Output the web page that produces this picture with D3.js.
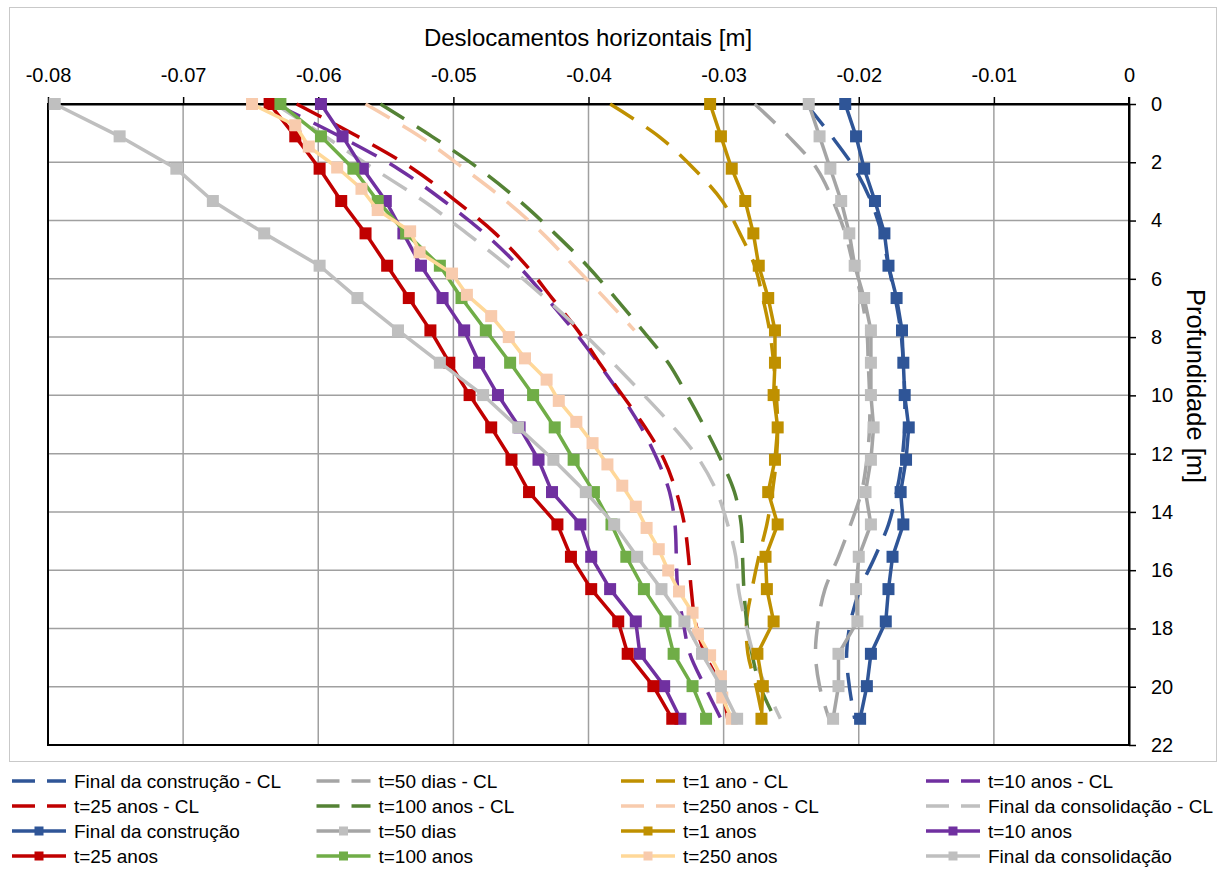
<!DOCTYPE html>
<html>
<head>
<meta charset="utf-8">
<script src="https://cdn.jsdelivr.net/npm/d3@7"></script>
<style>
  html, body { margin: 0; padding: 0; background: #fff; }
  svg text { font-family: "Liberation Sans", Arial, sans-serif; fill: #000; }
</style>
</head>
<body>
<svg id="chart" width="1224" height="869"></svg>
<script>
// Depths (m) of the calculation nodes
const depths = [0, 1.11, 2.22, 3.33, 4.44, 5.55, 6.66, 7.77, 8.88, 9.99,
                11.1, 12.21, 13.32, 14.43, 15.54, 16.65, 17.76, 18.87, 19.98, 21.1];
const depthsFine = [0, 0.73, 1.46, 2.18, 2.91, 3.64, 4.37, 5.09, 5.82, 6.55,
                    7.28, 8.0, 8.73, 9.46, 10.19, 10.91, 11.64, 12.37, 13.1, 13.82,
                    14.55, 15.28, 16.01, 16.73, 17.46, 18.19, 18.92, 19.64, 20.37, 21.1];

// Horizontal displacements (m) - CL analyses (dashed)
const finalConstrucaoCL = [-0.0239, -0.0220, -0.0203, -0.0191, -0.0183, -0.0178, -0.0173, -0.0169, -0.0167, -0.0166,
                           -0.0166, -0.0168, -0.0172, -0.0178, -0.0188, -0.0199, -0.0206, -0.0209, -0.0207, -0.0203];
const t50diasCL = [-0.0277, -0.0252, -0.0231, -0.0219, -0.0210, -0.0204, -0.0198, -0.0194, -0.0193, -0.0192,
                   -0.0192, -0.0194, -0.0198, -0.0206, -0.0215, -0.0225, -0.0230, -0.0232, -0.0229, -0.0222];
const t1anoCL = [-0.0384, -0.0348, -0.0322, -0.0301, -0.0288, -0.0277, -0.0271, -0.0266, -0.0263, -0.0261,
                 -0.0260, -0.0261, -0.0264, -0.0268, -0.0274, -0.0279, -0.0283, -0.0282, -0.0276, -0.0271];
const t10anosCL = [-0.0632, -0.0584, -0.0541, -0.0507, -0.0477, -0.0452, -0.0431, -0.0411, -0.0393, -0.0376,
                   -0.0361, -0.0349, -0.0340, -0.0336, -0.0335, -0.0334, -0.0330, -0.0325, -0.0314, -0.0302];
const t25anosCL = [-0.0616, -0.0571, -0.0530, -0.0498, -0.0469, -0.0446, -0.0427, -0.0408, -0.0392, -0.0375,
                   -0.0358, -0.0344, -0.0335, -0.0329, -0.0326, -0.0324, -0.0321, -0.0314, -0.0302, -0.0297];
const t100anosCL = [-0.0554, -0.0516, -0.0481, -0.0451, -0.0425, -0.0401, -0.0380, -0.0360, -0.0341, -0.0327,
                    -0.0314, -0.0302, -0.0292, -0.0287, -0.0286, -0.0285, -0.0283, -0.0279, -0.0273, -0.0262];
const t250anosCL = [-0.0565, -0.0525, -0.0492, -0.0461, -0.0434, -0.0411, -0.0388, -0.0366];
const finalConsolidacaoCL = [-0.0632, -0.0595, -0.0559, -0.0522, -0.0490, -0.0460, -0.0432, -0.0406, -0.0382, -0.0359,
                             -0.0337, -0.0318, -0.0305, -0.0297, -0.0291, -0.0289, -0.0284, -0.0278, -0.0269, -0.0258];

// Horizontal displacements (m) - staged analyses (solid with markers)
const finalConstrucao = [-0.0210, -0.0202, -0.0196, -0.0188, -0.0181, -0.0178, -0.0172, -0.0168, -0.0167, -0.0166,
                         -0.0163, -0.0165, -0.0169, -0.0167, -0.0175, -0.0178, -0.0180, -0.0191, -0.0194, -0.0199];
const t50dias = [-0.0237, -0.0229, -0.0221, -0.0213, -0.0207, -0.0203, -0.0196, -0.0191, -0.0191, -0.0191,
                 -0.0189, -0.0191, -0.0195, -0.0191, -0.0200, -0.0202, -0.0201, -0.0215, -0.0215, -0.0219];
const t1ano = [-0.0310, -0.0302, -0.0294, -0.0284, -0.0278, -0.0274, -0.0267, -0.0262, -0.0262, -0.0263,
               -0.0260, -0.0262, -0.0267, -0.0260, -0.0269, -0.0268, -0.0263, -0.0275, -0.0271, -0.0272];
const t10anos = [-0.0598, -0.0582, -0.0567, -0.0550, -0.0537, -0.0524, -0.0508, -0.0492, -0.0481, -0.0467,
                 -0.0451, -0.0437, -0.0427, -0.0406, -0.0398, -0.0384, -0.0365, -0.0362, -0.0344, -0.0332];
const t25anos = [-0.0636, -0.0617, -0.0599, -0.0583, -0.0565, -0.0549, -0.0533, -0.0517, -0.0503, -0.0488,
                 -0.0472, -0.0457, -0.0444, -0.0423, -0.0413, -0.0398, -0.0378, -0.0371, -0.0352, -0.0338];
const t100anos = [-0.0628, -0.0598, -0.0574, -0.0556, -0.0535, -0.0510, -0.0494, -0.0476, -0.0458, -0.0441,
                  -0.0425, -0.0411, -0.0396, -0.0383, -0.0372, -0.0359, -0.0343, -0.0337, -0.0323, -0.0313];
const t250anos = [-0.0649, -0.0617, -0.0607, -0.0586, -0.0568, -0.0556, -0.0532, -0.0525, -0.0501, -0.0490,
                  -0.0472, -0.0459, -0.0447, -0.0431, -0.0422, -0.0409, -0.0397, -0.0386, -0.0375, -0.0365,
                  -0.0357, -0.0348, -0.0341, -0.0333, -0.0323, -0.0319, -0.0310, -0.0302, -0.0301, -0.0294];
const finalConsolidacao = [-0.0795, -0.0747, -0.0705, -0.0678, -0.0640, -0.0599, -0.0571, -0.0541, -0.0510, -0.0478,
                           -0.0452, -0.0426, -0.0402, -0.0381, -0.0364, -0.0346, -0.0329, -0.0316, -0.0302, -0.0290];

// Axis ticks
const xTicks = [-0.08, -0.07, -0.06, -0.05, -0.04, -0.03, -0.02, -0.01, 0];
const xTickLabels = ["-0.08", "-0.07", "-0.06", "-0.05", "-0.04", "-0.03", "-0.02", "-0.01", "0"];
const yTicks = [0, 2, 4, 6, 8, 10, 12, 14, 16, 18, 20, 22];

const titleX = "Deslocamentos horizontais [m]";
const titleY = "Profundidade [m]";

// Series definitions (drawing order = legend order)
const series = [
  { name: "Final da construção - CL", values: finalConstrucaoCL, depth: depths, color: "#2F5597", dashed: true },
  { name: "t=50 dias - CL", values: t50diasCL, depth: depths, color: "#A5A5A5", dashed: true },
  { name: "t=1 ano - CL", values: t1anoCL, depth: depths, color: "#BF9000", dashed: true },
  { name: "t=10 anos - CL", values: t10anosCL, depth: depths, color: "#7030A0", dashed: true },
  { name: "t=25 anos - CL", values: t25anosCL, depth: depths, color: "#C00000", dashed: true },
  { name: "t=100 anos - CL", values: t100anosCL, depth: depths, color: "#548235", dashed: true },
  { name: "t=250 anos - CL", values: t250anosCL, depth: depths, color: "#F8CBAD", dashed: true },
  { name: "Final da consolidação - CL", values: finalConsolidacaoCL, depth: depths, color: "#BFBFBF", dashed: true },
  { name: "Final da construção", values: finalConstrucao, depth: depths, color: "#2F5597", marker: "#2F5597" },
  { name: "t=50 dias", values: t50dias, depth: depths, color: "#A5A5A5", marker: "#BFBFBF" },
  { name: "t=1 anos", values: t1ano, depth: depths, color: "#BF9000", marker: "#BF9000" },
  { name: "t=10 anos", values: t10anos, depth: depths, color: "#7030A0", marker: "#7030A0" },
  { name: "t=25 anos", values: t25anos, depth: depths, color: "#C00000", marker: "#C00000" },
  { name: "t=100 anos", values: t100anos, depth: depths, color: "#70AD47", marker: "#70AD47" },
  { name: "t=250 anos", values: t250anos, depth: depthsFine, color: "#FFD898", marker: "#F8CBAD" },
  { name: "Final da consolidação", values: finalConsolidacao, depth: depths, color: "#BFBFBF", marker: "#BFBFBF" }
];

const svg = d3.select("#chart");

// Chart frame
svg.append("rect")
  .attr("x", 9.5).attr("y", 7.5).attr("width", 1207).attr("height", 754)
  .attr("fill", "#fff").attr("stroke", "#C9C9C9").attr("stroke-width", 1);

const x = d3.scaleLinear().domain([-0.08, 0]).range([48, 1129]);
const y = d3.scaleLinear().domain([0, 22]).range([104, 745]);

// Gridlines
const grid = svg.append("g").attr("stroke", "#A0A0A0").attr("stroke-width", 1.5);
grid.selectAll("line.v").data(xTicks.slice(1, -1)).join("line")
  .attr("class", "v")
  .attr("x1", d => x(d)).attr("x2", d => x(d))
  .attr("y1", y(0)).attr("y2", y(22));
grid.selectAll("line.h").data(yTicks.slice(1, -1)).join("line")
  .attr("class", "h")
  .attr("x1", x(-0.08)).attr("x2", x(0))
  .attr("y1", d => y(d)).attr("y2", d => y(d));

// Plot area border
svg.append("rect")
  .attr("x", x(-0.08)).attr("y", y(0))
  .attr("width", x(0) - x(-0.08)).attr("height", y(22) - y(0))
  .attr("fill", "none").attr("stroke", "#000").attr("stroke-width", 2);

// Top axis
const xAxis = d3.axisTop(x).tickValues(xTicks)
  .tickFormat((d, i) => xTickLabels[i])
  .tickSize(7).tickSizeOuter(0).tickPadding(15);
const gx = svg.append("g").attr("transform", `translate(0,${y(0)})`).call(xAxis);
gx.select(".domain").attr("stroke", "#000").attr("stroke-width", 2);
gx.selectAll(".tick line").attr("stroke", "#000").attr("stroke-width", 1.5);
gx.selectAll(".tick text").attr("font-size", 20).attr("font-family", null);

// Right axis
const yAxis = d3.axisRight(y).tickValues(yTicks)
  .tickSize(7).tickSizeOuter(0).tickPadding(15);
const gy = svg.append("g").attr("transform", `translate(${x(0)},0)`).call(yAxis);
gy.select(".domain").attr("stroke", "#000").attr("stroke-width", 2);
gy.selectAll(".tick line").attr("stroke", "#000").attr("stroke-width", 1.5);
gy.selectAll(".tick text").attr("font-size", 20).attr("font-family", null);
// extend right axis up to the top tick
svg.append("line").attr("x1", x(0)).attr("x2", x(0)).attr("y1", y(0) - 7).attr("y2", y(0))
  .attr("stroke", "#000").attr("stroke-width", 2);

// Axis titles
svg.append("text").attr("x", 588).attr("y", 46).attr("text-anchor", "middle")
  .attr("font-size", 24).text(titleX);
svg.append("text").attr("transform", "translate(1196,386) rotate(90)")
  .attr("text-anchor", "middle").attr("dominant-baseline", "central")
  .attr("font-size", 25.5).text(titleY);

// Data
const dashedLine = d3.line().x(d => x(d[0])).y(d => y(d[1])).curve(d3.curveCatmullRom.alpha(0.5));
const solidLine = d3.line().x(d => x(d[0])).y(d => y(d[1]));
const plot = svg.append("g");
const mk = 12;

series.forEach(s => {
  const pts = s.values.map((v, i) => [v, s.depth[i]]);
  const g = plot.append("g");
  g.append("path")
    .attr("d", s.dashed ? dashedLine(pts) : solidLine(pts))
    .attr("fill", "none")
    .attr("stroke", s.color)
    .attr("stroke-width", 3.5)
    .attr("stroke-linejoin", "round")
    .attr("stroke-dasharray", s.dashed ? "28,15" : null);
  if (!s.dashed) {
    g.selectAll("rect").data(pts).join("rect")
      .attr("x", d => x(d[0]) - mk / 2).attr("y", d => y(d[1]) - mk / 2)
      .attr("width", mk).attr("height", mk)
      .attr("fill", s.marker);
  }
});

// Legend
const legendCols = [12, 316.5, 621, 926];
const legendRows = [781, 806, 831, 856];
const leg = svg.append("g");
series.forEach((s, i) => {
  const cx = legendCols[i % 4], cy = legendRows[Math.floor(i / 4)];
  const g = leg.append("g");
  g.append("line").attr("x1", cx).attr("x2", cx + 54).attr("y1", cy).attr("y2", cy)
    .attr("stroke", s.color).attr("stroke-width", 3.5)
    .attr("stroke-dasharray", s.dashed ? "23,12" : null);
  if (!s.dashed) {
    g.append("rect").attr("x", cx + 27 - 4.5).attr("y", cy - 4.5)
      .attr("width", 9).attr("height", 9).attr("fill", s.marker);
  }
  g.append("text").attr("x", cx + 62).attr("y", cy).attr("dy", "0.35em")
    .attr("font-size", 19).text(s.name);
});
</script>
</body>
</html>
